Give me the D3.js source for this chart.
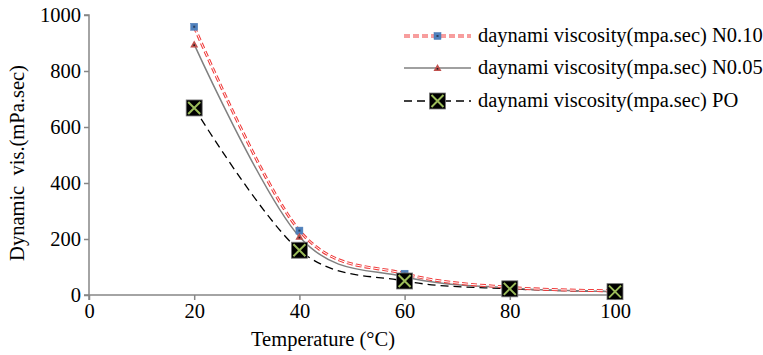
<!DOCTYPE html>
<html><head><meta charset="utf-8">
<script src="https://cdn.jsdelivr.net/npm/d3@7"></script>
<style>body{margin:0;background:#fff}svg{display:block}</style>
</head><body><svg id="c" width="763" height="355"></svg>
<script>
const temps = [20, 40, 60, 80, 100];
const n010 = [958, 230, 76, 27, 15];
const n005 = [895, 208, 65, 25, 12];
const po = [668, 160, 50, 22, 12];
const xTicks = [0, 20, 40, 60, 80, 100];
const yTicks = [0, 200, 400, 600, 800, 1000];
const seriesNames = ["daynami viscosity(mpa.sec) N0.10", "daynami viscosity(mpa.sec) N0.05", "daynami viscosity(mpa.sec) PO"];

const FONT = "Liberation Serif";
const FS = "20.5px";
const svg = d3.select("#c");
const x = d3.scaleLinear().domain([0, 100]).range([89, 615]);
const y = d3.scaleLinear().domain([0, 1000]).range([295, 15]);
const axisColor = "#868686";

const xa = svg.append("g").attr("transform", "translate(0,295)")
  .call(d3.axisBottom(x).tickValues(xTicks).tickFormat(d3.format("d")).tickSize(5).tickPadding(3));
const ya = svg.append("g").attr("transform", "translate(89,0)")
  .call(d3.axisLeft(y).tickValues(yTicks).tickFormat(d3.format("d")).tickSize(5).tickPadding(3));
[xa, ya].forEach(a => {
  a.select(".domain").attr("stroke", axisColor).attr("stroke-width", 1.5);
  a.selectAll(".tick line").attr("stroke", axisColor).attr("stroke-width", 1.5);
  a.selectAll("text").attr("fill", "#000").style("font-family", FONT).style("font-size", FS);
});
ya.select(".domain").attr("d", "M-5,15H0V295H-5");
xa.select(".domain").attr("d", "M89,5V0H615V5");

svg.append("text").attr("x", 323).attr("y", 346).attr("text-anchor", "middle")
  .style("font-family", FONT).style("font-size", FS).text("Temperature (°C)");
svg.append("text").attr("transform", "translate(24,163) rotate(-90)").attr("text-anchor", "middle")
  .style("font-family", FONT).style("font-size", FS).style("white-space", "pre").text("Dynamic  vis.(mPa.sec)");

const line = d3.line().x((d, i) => x(temps[i])).y(d => y(d)).curve(d3.curveCatmullRom.alpha(0));

svg.append("path").attr("d", line(po)).attr("fill", "none").attr("stroke", "#000").attr("stroke-width", 1.3).attr("stroke-dasharray", "8,5");
svg.append("path").attr("d", line(n005)).attr("fill", "none").attr("stroke", "#808080").attr("stroke-width", 1.5);
svg.append("path").attr("d", line(n010)).attr("fill", "none").attr("stroke", "#f03c3c").attr("stroke-width", 3).attr("stroke-dasharray", "6,3");
svg.append("path").attr("d", line(n010)).attr("fill", "none").attr("stroke", "#fff").attr("stroke-width", 1).attr("stroke-dasharray", "6,3");

function sq(g, cx, cy) {
  g.append("rect").attr("x", cx - 3.5).attr("y", cy - 3.5).attr("width", 7).attr("height", 7).attr("fill", "#4f81bd").attr("stroke", "#4a7ab5").attr("stroke-width", 0.5);
  g.append("rect").attr("x", cx - 1).attr("y", cy - 1).attr("width", 2).attr("height", 2).attr("fill", "#2a3f5f");
}
function tri(g, cx, cy) {
  g.append("path").attr("d", `M${cx},${cy - 4}L${cx + 4},${cy + 3}L${cx - 4},${cy + 3}Z`).attr("fill", "#c0504d");
  g.append("rect").attr("x", cx - 0.8).attr("y", cy).attr("width", 1.6).attr("height", 1.6).attr("fill", "#222");
}
function xm(g, cx, cy) {
  g.append("rect").attr("x", cx - 8).attr("y", cy - 8).attr("width", 16).attr("height", 16).attr("fill", "#000").attr("stroke", "#777").attr("stroke-width", 0.8);
  g.append("path").attr("d", `M${cx - 6},${cy - 6}L${cx + 6},${cy + 6}M${cx + 6},${cy - 6}L${cx - 6},${cy + 6}`).attr("stroke", "#9bbb59").attr("stroke-width", 2);
}
const mk = svg.append("g");
n010.forEach((v, i) => sq(mk, x(temps[i]), y(v)));
n005.forEach((v, i) => tri(mk, x(temps[i]), y(v)));
po.forEach((v, i) => xm(mk, x(temps[i]), y(v)));

const lg = svg.append("g");
const ly = [36, 68, 101];
const lx0 = 404, lx1 = 471;
lg.append("line").attr("x1", lx0).attr("x2", lx1).attr("y1", ly[0]).attr("y2", ly[0]).attr("stroke", "#f03c3c").attr("stroke-width", 3).attr("stroke-dasharray", "6,3");
lg.append("line").attr("x1", lx0).attr("x2", lx1).attr("y1", ly[0]).attr("y2", ly[0]).attr("stroke", "#fff").attr("stroke-width", 1).attr("stroke-dasharray", "6,3");
sq(lg, 437.5, ly[0]);
lg.append("line").attr("x1", lx0).attr("x2", lx1).attr("y1", ly[1]).attr("y2", ly[1]).attr("stroke", "#808080").attr("stroke-width", 1.3);
tri(lg, 437.5, ly[1]);
lg.append("line").attr("x1", lx0).attr("x2", lx1).attr("y1", ly[2]).attr("y2", ly[2]).attr("stroke", "#000").attr("stroke-width", 1.3).attr("stroke-dasharray", "8,5");
lg.append("rect").attr("x", 431).attr("y", ly[2] - 6.5).attr("width", 13).attr("height", 13).attr("fill", "#fff");
xm(lg, 437.5, ly[2]);
seriesNames.forEach((n, i) => lg.append("text").attr("x", 478).attr("y", ly[i] + 6)
  .style("font-family", FONT).style("font-size", FS).text(n));
</script></body></html>
